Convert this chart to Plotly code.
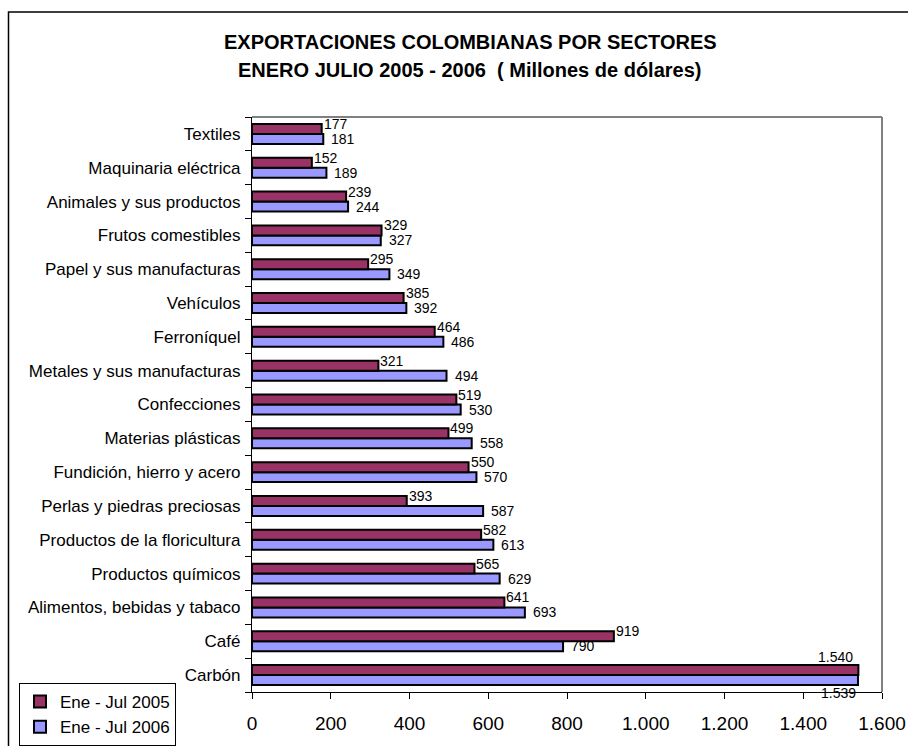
import plotly.graph_objects as go

# Data (top-to-bottom order as displayed)
categories = ["Textiles", "Maquinaria eléctrica", "Animales y sus productos",
              "Frutos comestibles", "Papel y sus manufacturas", "Vehículos",
              "Ferroníquel", "Metales y sus manufacturas", "Confecciones",
              "Materias plásticas", "Fundición, hierro y acero",
              "Perlas y piedras preciosas", "Productos de la floricultura",
              "Productos químicos", "Alimentos, bebidas y tabaco", "Café", "Carbón"]
v2005 = [177, 152, 239, 329, 295, 385, 464, 321, 519, 499, 550, 393, 582, 565, 641, 919, 1540]
v2006 = [181, 189, 244, 327, 349, 392, 486, 494, 530, 558, 570, 587, 613, 629, 693, 790, 1539]
name2005 = "Ene - Jul 2005"
name2006 = "Ene - Jul 2006"
xticks = [0, 200, 400, 600, 800, 1000, 1200, 1400, 1600]
title1 = "EXPORTACIONES COLOMBIANAS POR SECTORES"
title2 = "ENERO JULIO 2005 - 2006  ( Millones de dólares)"

FONT = "Liberation Sans, Arial, sans-serif"

# plotly puts first category at bottom -> reverse
cats = categories[::-1]
a05 = v2005[::-1]
a06 = v2006[::-1]


def fmt(v):
    return f"{v:,}".replace(",", ".")


fig = go.Figure()
fig.add_trace(go.Bar(y=cats, x=a06, orientation="h", name=name2006,
                     marker=dict(color="#9999FF", line=dict(color="black", width=2)),
                     legendrank=2))
fig.add_trace(go.Bar(y=cats, x=a05, orientation="h", name=name2005,
                     marker=dict(color="#993366", line=dict(color="black", width=2)),
                     legendrank=1))

# Figure geometry (body margin removed in page)
W, H = 908, 746
L, R, T, B = 252, 26, 117, 54
pw, ph = W - L - R, H - T - B


def px(xs):
    return (xs - L) / pw


def py(ys):
    return (H - B - ys) / ph


lab_font = dict(size=14, color="black", family=FONT)
annotations = []
for c, v in zip(cats, a05):
    big = v > 1400
    annotations.append(dict(x=v, y=c, xref="x", yref="y", text=fmt(v), showarrow=False,
                            xanchor="right" if big else "left", borderpad=0,
                            xshift=-4 if big else 1, yshift=18 if big else 10,
                            font=lab_font))
for c, v in zip(cats, a06):
    big = v > 1400
    annotations.append(dict(x=v, y=c, xref="x", yref="y", text=fmt(v), showarrow=False,
                            xanchor="right" if big else "left", borderpad=0,
                            xshift=-1 if big else 7, yshift=-18 if big else -5,
                            font=lab_font))

annotations.append(dict(x=px(470), y=py(42), xref="paper", yref="paper", xanchor="center",
                        yanchor="middle", showarrow=False, text="<b>" + title1 + "</b>",
                        font=dict(size=20, color="black", family=FONT)))
annotations.append(dict(x=px(470), y=py(70), xref="paper", yref="paper", xanchor="center",
                        yanchor="middle", showarrow=False, text="<b>" + title2 + "</b>",
                        font=dict(size=20, color="black", family=FONT)))

shapes = [
    # outer chart frame (left and top edges visible)
    dict(type="rect", xref="paper", yref="paper", x0=px(8.5), x1=px(W + 5),
         y0=py(H + 5), y1=py(12), line=dict(color="black", width=1.5)),
    # plot area frame (top and right, grey)
    dict(type="line", xref="paper", yref="paper", x0=0, x1=1, y0=1, y1=1,
         line=dict(color="#808080", width=2)),
    dict(type="line", xref="paper", yref="paper", x0=1, x1=1, y0=0, y1=1,
         line=dict(color="#808080", width=2)),
]

fig.update_layout(
    width=W, height=H,
    margin=dict(l=L, r=R, t=T, b=B, autoexpand=False),
    paper_bgcolor="white", plot_bgcolor="white",
    barmode="group", bargap=0.41, bargroupgap=0,
    separators=",.",
    font=dict(family=FONT, color="black"),
    showlegend=True,
    legend=dict(x=px(19), y=py(683), xanchor="left", yanchor="top",
                bordercolor="black", borderwidth=1, bgcolor="white",
                font=dict(size=17, color="black", family=FONT), tracegroupgap=0,
                itemwidth=30),
    annotations=annotations,
    shapes=shapes,
    xaxis=dict(range=[0, 1600], tickvals=xticks, ticktext=[fmt(t) for t in xticks],
               showgrid=False, zeroline=False, showline=True, linecolor="black", linewidth=1.2,
               ticks="outside", ticklen=6, tickcolor="black", tickwidth=1.2,
               ticklabelstandoff=8, ticklabeloverflow="allow",
               tickfont=dict(size=19, color="black", family=FONT)),
    yaxis=dict(categoryorder="array", categoryarray=cats, range=[-0.5, len(cats) - 0.5],
               showgrid=False, zeroline=False,
               showline=True, linecolor="black", linewidth=1.2,
               ticks="outside", ticklen=6, tickcolor="black", tickwidth=1.2,
               tickson="boundaries", ticklabelstandoff=7,
               tickfont=dict(size=17, color="black", family=FONT), automargin=False),
)

fig.write_html("out.html", config={"displayModeBar": False},
               post_script="document.body.style.margin='0';document.body.style.overflow='hidden';")
